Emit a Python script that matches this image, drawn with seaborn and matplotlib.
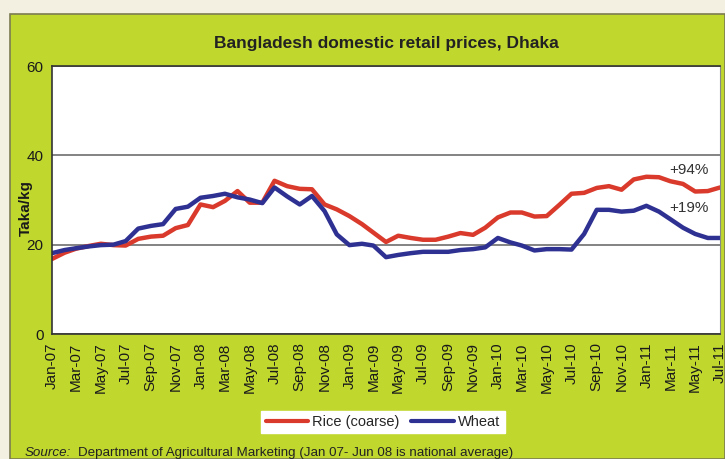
import pandas as pd
import numpy as np
import matplotlib
matplotlib.use('Agg')
import matplotlib.pyplot as plt
import matplotlib.dates as mdates
from matplotlib.patches import Rectangle
import seaborn as sns

## Datos

months = pd.date_range('2007-01-01', '2011-07-01', freq='MS')  # Jan-07 .. Jul-11

rice = [16.8, 18.2, 19.1, 19.7, 20.2, 19.9, 19.8, 21.3, 21.8, 22.0, 23.7, 24.4,
        29.0, 28.4, 29.8, 32.0, 29.4, 29.4, 34.3, 33.1, 32.5, 32.4, 29.0, 27.9,
        26.4, 24.6, 22.7, 20.6, 22.0, 21.5, 21.1, 21.1, 21.8, 22.6, 22.2, 23.8,
        26.1, 27.2, 27.2, 26.3, 26.4, 28.9, 31.4, 31.6, 32.7, 33.1, 32.3, 34.6,
        35.2, 35.1, 34.2, 33.6, 31.9, 32.0, 32.8]

wheat = [18.1, 18.8, 19.2, 19.6, 19.9, 20.0, 20.8, 23.6, 24.2, 24.6, 28.0, 28.5,
         30.5, 30.9, 31.4, 30.6, 30.1, 29.3, 32.8, 30.8, 29.0, 30.9, 27.5, 22.3,
         19.9, 20.2, 19.8, 17.2, 17.7, 18.1, 18.4, 18.4, 18.4, 18.8, 19.0, 19.4,
         21.5, 20.5, 19.8, 18.7, 19.0, 19.0, 18.9, 22.4, 27.8, 27.8, 27.4, 27.6,
         28.7, 27.4, 25.7, 23.8, 22.4, 21.5, 21.5]

series_names = ['Rice (coarse)', 'Wheat']
colors = ['#D93A2B', '#2E3192']
change_labels = ['+94%', '+19%']
label_pos = [36.7, 28.2]  # altura de las etiquetas de cambio

df = pd.DataFrame({'Month': list(months) * 2,
                   'Price': rice + wheat,
                   'Series': [series_names[0]] * len(rice) + [series_names[1]] * len(wheat)})

## Estilo

sns.set_style('white')
plt.rcParams['font.family'] = ['Liberation Sans', 'DejaVu Sans']

green = '#C0D72E'
cream = '#F4F0E1'

fig = plt.figure(figsize=(7.25, 4.59), dpi=100)
fig.patch.set_facecolor(cream)
fig.patches.append(Rectangle((10 / 725, 0), 1 - 10 / 725, 1 - 14 / 459, transform=fig.transFigure,
                             facecolor=green, edgecolor='#7B7B52', linewidth=1.2, zorder=-5))

ax = fig.add_axes([52 / 725, (459 - 334) / 459, (720 - 52) / 725, (334 - 66) / 459])
ax.set_facecolor('white')
ax.set_zorder(2)

sns.lineplot(data=df, x='Month', y='Price', hue='Series', palette=colors,
             linewidth=3.2, ax=ax, legend=False)

ax.set_ylim(0, 60)
ax.set_yticks([0, 20, 40, 60])
ax.set_xlim(months[0], months[-1])
ax.xaxis.set_major_locator(mdates.MonthLocator(bymonth=[1, 3, 5, 7, 9, 11]))
ax.xaxis.set_major_formatter(mdates.DateFormatter('%b-%y'))
for lab in ax.get_xticklabels():
    lab.set_rotation(90)

ax.tick_params(axis='both', direction='out', length=4, width=1, color='#333333',
               labelsize=11, labelcolor='#1a1a1a', pad=2)
ax.yaxis.grid(True, color='#6E6E6E', linewidth=1.2)
ax.set_axisbelow(True)
for side in ['left', 'bottom', 'top']:
    ax.spines[side].set_color('#333333')
    ax.spines[side].set_linewidth(1.2)
ax.spines['right'].set_color('#888888')

ax.set_xlabel('')
ax.set_ylabel('Taka/kg', fontsize=11, fontweight='bold', color='#1a1a1a')
ax.yaxis.set_label_coords(-0.028, 0.47)
ax.set_title('Bangladesh domestic retail prices, Dhaka', fontsize=12.5, fontweight='bold',
             color='#222222', pad=13)

# Etiquetas de cambio
for txt, yv in zip(change_labels, label_pos):
    ax.text(pd.Timestamp('2011-04-15'), yv, txt, ha='center', va='center',
            fontsize=11, color='#333333')

# Leyenda
handles = [plt.Line2D([], [], color=c, linewidth=3) for c in colors]
leg = fig.legend(handles, series_names, loc='center', bbox_to_anchor=(383 / 725, 37 / 459),
                 ncol=2, frameon=True, fancybox=False, fontsize=10.5, handlelength=2.9,
                 columnspacing=0.8, handletextpad=0.3, borderpad=0.3, framealpha=1)
leg.get_frame().set_facecolor('white')
leg.get_frame().set_edgecolor('white')

# Fuente
fig.text(25 / 725, 6 / 459, 'Source:', fontsize=9.6, style='italic', color='#222222', va='center')
fig.text(78 / 725, 6 / 459, 'Department of Agricultural Marketing (Jan 07- Jun 08 is national average)',
         fontsize=9.6, color='#222222', va='center')

plt.savefig('out.png', dpi=100, facecolor=fig.get_facecolor())
